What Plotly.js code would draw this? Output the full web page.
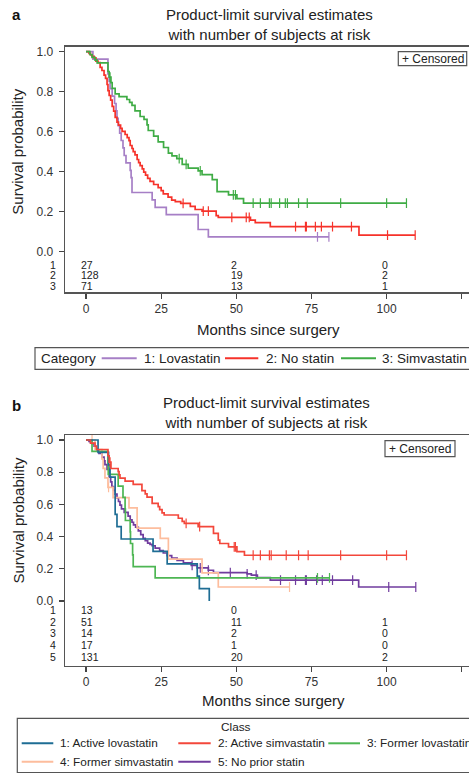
<!DOCTYPE html>
<html><head><meta charset="utf-8">
<script src="https://cdn.plot.ly/plotly-3.0.1.min.js"></script>
<style>html,body{margin:0;padding:0;background:#fff}#chart{width:469px;height:773px}</style>
</head><body><div id="chart"></div><script>
// ---------- Panel a data ----------
const A_LOVA_T = [0, 2.3, 7.3, 7.7, 8.0, 8.7, 9.5, 10.0, 10.3, 10.7, 11.2, 11.7, 12.3, 12.7, 13.3, 14.7, 15.0, 15.3, 22.0, 23.0, 26.7, 37.3, 40.7];
const A_LOVA_S = [1, 0.963, 0.889, 0.852, 0.815, 0.778, 0.741, 0.704, 0.667, 0.630, 0.593, 0.556, 0.519, 0.481, 0.444, 0.407, 0.370, 0.296, 0.259, 0.222, 0.185, 0.111, 0.074];
const A_LOVA_END = 80.8;
const A_LOVA_CENS = [77.0, 80.8];

const A_NOST_T = [0, 1, 1.5, 2, 2.7, 3.3, 4, 4.7, 5.3, 6, 6.5, 7, 7.3, 7.7, 8.2, 8.7, 9.2, 9.7, 10.3, 10.8, 11.5, 12, 13, 13.7, 14.3, 14.7, 15.3, 15.7, 16.3, 17, 17.5, 18, 18.7, 19.2, 19.8, 20.5, 21.3, 22.5, 24, 25, 25.7, 27.3, 28.5, 29.7, 31.5, 34.7, 36.3, 38.6, 43.3, 44, 54.7, 56.3, 61.3, 90.8];
const A_NOST_S = [1, 0.992, 0.984, 0.977, 0.969, 0.953, 0.945, 0.922, 0.906, 0.883, 0.867, 0.836, 0.805, 0.781, 0.758, 0.727, 0.703, 0.672, 0.648, 0.633, 0.617, 0.602, 0.586, 0.570, 0.555, 0.531, 0.516, 0.500, 0.484, 0.461, 0.445, 0.430, 0.414, 0.398, 0.383, 0.367, 0.352, 0.336, 0.320, 0.305, 0.289, 0.273, 0.258, 0.250, 0.242, 0.227, 0.211, 0.203, 0.180, 0.172, 0.158, 0.145, 0.125, 0.083];
const A_NOST_END = 109.5;
const A_NOST_CENS = [32.3, 39, 40.7, 48.5, 53.3, 54.3, 69.7, 73, 73.3, 76.3, 78.3, 82, 88.3, 100.3, 109.5];

const A_SIMV_T = [0, 1.3, 2, 3, 3.7, 7.3, 7.7, 8.3, 8.7, 9.7, 11, 13.6, 14.5, 15.3, 16.3, 18, 19.3, 20.3, 20.7, 22.5, 24, 25.8, 27.4, 28.6, 30.2, 32, 34, 37.3, 38.6, 42, 43.6, 47.4, 50.2, 52.4];
const A_SIMV_S = [1, 0.986, 0.972, 0.958, 0.944, 0.901, 0.873, 0.845, 0.817, 0.789, 0.775, 0.761, 0.747, 0.732, 0.704, 0.676, 0.662, 0.634, 0.606, 0.578, 0.549, 0.521, 0.493, 0.479, 0.465, 0.437, 0.418, 0.404, 0.385, 0.360, 0.300, 0.284, 0.265, 0.243];
const A_SIMV_END = 106.6;
const A_SIMV_CENS = [8, 31, 33.3, 38, 49, 49.7, 55.6, 58, 61, 61.6, 64.4, 66.3, 67, 70.7, 73.6, 84.7, 100, 106.6];

const A_NAMES = ['1: Lovastatin', '2: No statin', '3: Simvastatin'];
const A_RISK_TIMES = [0, 50, 100];
const A_RISK_ROWS = ['1', '2', '3'];
const A_RISK = [[27, 2, 0], [128, 19, 2], [71, 13, 1]];

// ---------- Panel b data ----------
const B_ALOV_T = [0, 4, 7.5, 8, 9.7, 10.3, 11.7, 22.3, 27, 37, 37.7, 41];
const B_ALOV_S = [1, 0.923, 0.846, 0.769, 0.538, 0.462, 0.385, 0.308, 0.231, 0.154, 0.077, 0];
const B_ALOV_END = 41;
const B_ALOV_CENS = [];

const B_ASIM_T = [0, 1.5, 3, 3.5, 7.3, 7.7, 8.3, 10.7, 11, 11.3, 13, 15.7, 18.6, 19.7, 20.3, 22, 24, 24.5, 25.3, 26, 30.7, 32, 32.7, 37.3, 42.4, 44, 44.5, 47.4, 50.2, 52.7];
const B_ASIM_S = [1, 0.980, 0.961, 0.941, 0.902, 0.863, 0.823, 0.803, 0.783, 0.763, 0.744, 0.724, 0.685, 0.665, 0.645, 0.606, 0.586, 0.567, 0.547, 0.534, 0.514, 0.494, 0.482, 0.462, 0.420, 0.378, 0.357, 0.336, 0.306, 0.284];
const B_ASIM_END = 106.6;
const B_ASIM_CENS = [8, 33.3, 37.8, 49.3, 49.7, 55.6, 58, 61, 61.6, 66.6, 70.7, 73.9, 84.7, 100, 106.6];

const B_FLOV_T = [0, 2, 7.3, 7.4, 10.7, 12.3, 13, 13.1, 14.7, 14.8, 15.5, 15.7, 23];
const B_FLOV_S = [1, 0.929, 0.857, 0.786, 0.714, 0.643, 0.571, 0.500, 0.429, 0.357, 0.286, 0.214, 0.143];
const B_FLOV_END = 81;
const B_FLOV_CENS = [77, 81];

const B_FSIM_T = [0, 3, 5.3, 5.7, 6.3, 7.3, 9, 14.3, 17, 24.7, 27.4, 38.6, 44];
const B_FSIM_S = [1, 0.941, 0.882, 0.824, 0.765, 0.706, 0.642, 0.578, 0.453, 0.389, 0.260, 0.174, 0.087];
const B_FSIM_END = 67.7;
const B_FSIM_CENS = [2, 7.5, 67.7];

const B_NONE_T = [0, 1, 1.5, 2, 2.7, 3.3, 3.7, 4.3, 5.3, 6, 6.3, 7, 7.7, 8.2, 8.6, 9.2, 9.7, 10.3, 10.8, 11.3, 11.8, 12.7, 14, 14.7, 15.3, 15.8, 16.5, 17.4, 18.2, 19, 19.7, 20.5, 21.3, 22, 23, 24.5, 25.7, 27, 28.5, 30.3, 32.4, 35, 37, 40.7, 42.4, 53.6, 55, 57, 61.3, 90.7];
const B_NONE_S = [1, 0.992, 0.985, 0.977, 0.962, 0.947, 0.931, 0.916, 0.893, 0.870, 0.847, 0.817, 0.771, 0.740, 0.710, 0.687, 0.664, 0.641, 0.618, 0.595, 0.572, 0.550, 0.527, 0.504, 0.489, 0.473, 0.458, 0.435, 0.412, 0.389, 0.374, 0.359, 0.352, 0.343, 0.328, 0.313, 0.298, 0.282, 0.267, 0.252, 0.237, 0.221, 0.206, 0.191, 0.176, 0.168, 0.160, 0.145, 0.130, 0.087];
const B_NONE_END = 109.7;
const B_NONE_CENS = [35.3, 38, 40.7, 48, 53.6, 56.6, 64.7, 69.7, 73, 73.3, 76.7, 78.6, 82, 88.7, 100.7, 109.7];

const B_NAMES = ['1: Active lovastatin', '2: Active simvastatin', '3: Former lovastatin', '4: Former simvastatin', '5: No prior statin'];
const B_RISK_TIMES = [0, 50, 100];
const B_RISK_ROWS = ['1', '2', '3', '4', '5'];
const B_RISK = [[13, 0, null], [51, 11, 1], [14, 2, 0], [17, 1, 0], [131, 20, 2]];

// ---------- styling ----------
const A_COLORS = ['#a67fc6', '#f6322a', '#3fac45'];
const B_COLORS = ['#1e6d94', '#f3473b', '#4db653', '#fdbd9d', '#703c9e'];
const FONT = 'Liberation Sans, Arial, Helvetica, sans-serif';
const W = 469, H = 773;

function stepAt(t, ts, ss) {
  let v = ss[0];
  for (let i = 0; i < ts.length; i++) { if (ts[i] <= t) v = ss[i]; }
  return v;
}
function curve(ts, ss, end, cens, color, name, xa, ya) {
  const out = [];
  out.push({
    type: 'scatter', mode: 'lines', x: ts.concat([end]), y: ss.concat([ss[ss.length - 1]]),
    line: {shape: 'hv', color: color, width: 1.7}, name: name, xaxis: xa, yaxis: ya,
    showlegend: false, hoverinfo: 'skip'
  });
  if (cens.length) {
    out.push({
      type: 'scatter', mode: 'markers', x: cens, y: cens.map(c => stepAt(c, ts, ss)),
      marker: {symbol: 'line-ns', size: 7, line: {color: color, width: 1.2}, color: color},
      xaxis: xa, yaxis: ya, showlegend: false, hoverinfo: 'skip'
    });
  }
  return out;
}

const A_SETS = [[A_LOVA_T, A_LOVA_S, A_LOVA_END, A_LOVA_CENS], [A_NOST_T, A_NOST_S, A_NOST_END, A_NOST_CENS], [A_SIMV_T, A_SIMV_S, A_SIMV_END, A_SIMV_CENS]];
const B_SETS = [[B_ALOV_T, B_ALOV_S, B_ALOV_END, B_ALOV_CENS], [B_ASIM_T, B_ASIM_S, B_ASIM_END, B_ASIM_CENS], [B_FLOV_T, B_FLOV_S, B_FLOV_END, B_FLOV_CENS], [B_FSIM_T, B_FSIM_S, B_FSIM_END, B_FSIM_CENS], [B_NONE_T, B_NONE_S, B_NONE_END, B_NONE_CENS]];

let traces = [];
A_SETS.forEach((d, i) => { traces = traces.concat(curve(d[0], d[1], d[2], d[3], A_COLORS[i], A_NAMES[i], 'x', 'y')); });
[4, 3, 2, 0, 1].forEach(i => { const d = B_SETS[i]; traces = traces.concat(curve(d[0], d[1], d[2], d[3], B_COLORS[i], B_NAMES[i], 'x2', 'y2')); });

const px = v => v / W;
const py = v => 1 - v / H;

const axX = {
  range: [-6.99, 127.4], tickvals: [0, 25, 50, 75, 100, 125], ticks: 'outside', ticklen: 5, tickwidth: 1.1,
  tickcolor: '#444', showline: true, linecolor: '#555', linewidth: 1.3, mirror: true, showgrid: false,
  zeroline: false, tickfont: {size: 12, color: '#333', family: FONT}, ticklabelstandoff: 0, domain: [65 / W, 1]
};
const axY = {
  tickvals: [0, 0.2, 0.4, 0.6, 0.8, 1.0], ticktext: ['0.0', '0.2', '0.4', '0.6', '0.8', '1.0'],
  ticks: 'outside', ticklen: 5, tickwidth: 1.1, tickcolor: '#444', showline: true, linecolor: '#555',
  linewidth: 1.3, mirror: false, showgrid: false, zeroline: false,
  tickfont: {size: 12, color: '#333', family: FONT}, ticklabelstandoff: 3
};

const ann = [];
const T = (text, x, y, opt) => ann.push(Object.assign({text: text, x: x, y: y, xref: 'paper', yref: 'paper', xanchor: 'center', yanchor: 'middle', showarrow: false, font: {family: FONT, size: 15, color: '#222'}}, opt || {}));

T('<b>a</b>', px(16), py(14), {font: {family: FONT, size: 15, color: '#111'}});
T('<b>b</b>', px(16), py(405), {font: {family: FONT, size: 15, color: '#111'}});
T('Product-limit survival estimates<br>with number of subjects at risk', px(269.5), py(24.5));
T('Product-limit survival estimates<br>with number of subjects at risk', px(266.7), py(412.5));
T('Months since surgery', px(268.3), py(329));
T('Months since surgery', px(273.3), py(700));
ann.push({text: 'Survival probability', textangle: -90, x: px(18), xref: 'paper', xanchor: 'center', y: 0.5, yref: 'y', yanchor: 'middle', showarrow: false, font: {family: FONT, size: 15, color: '#222'}});
ann.push({text: 'Survival probability', textangle: -90, x: px(18), xref: 'paper', xanchor: 'center', y: 0.5, yref: 'y2', yanchor: 'middle', showarrow: false, font: {family: FONT, size: 15, color: '#222'}});
T('+ Censored', px(432.5), py(58.7), {font: {family: FONT, size: 12, color: '#222'}});
T('+ Censored', px(420), py(448.7), {font: {family: FONT, size: 12, color: '#222'}});

// at-risk tables
const riskFont = {family: FONT, size: 10.5, color: '#222'};
A_RISK.forEach((row, r) => {
  const yv = -0.067 - 0.0515 * r;
  ann.push({text: A_RISK_ROWS[r], x: px(57.5), xref: 'paper', xanchor: 'right', y: yv, yref: 'y', yanchor: 'middle', showarrow: false, font: riskFont});
  row.forEach((v, c) => { if (v !== null) ann.push({text: String(v), x: A_RISK_TIMES[c], xref: 'x', xanchor: 'left', xshift: -7, y: yv, yref: 'y', yanchor: 'middle', showarrow: false, font: riskFont}); });
});
B_RISK.forEach((row, r) => {
  const yv = -0.056 - 0.0727 * r;
  ann.push({text: B_RISK_ROWS[r], x: px(57.5), xref: 'paper', xanchor: 'right', y: yv, yref: 'y2', yanchor: 'middle', showarrow: false, font: riskFont});
  row.forEach((v, c) => { if (v !== null) ann.push({text: String(v), x: B_RISK_TIMES[c], xref: 'x2', xanchor: 'left', xshift: -7, y: yv, yref: 'y2', yanchor: 'middle', showarrow: false, font: riskFont}); });
});

const shapes = [];
const box = (x0, y0, x1, y1) => shapes.push({type: 'rect', xref: 'paper', yref: 'paper', x0: px(x0), x1: px(x1), y0: py(y1), y1: py(y0), line: {color: '#555', width: 1.2}, fillcolor: 'rgba(0,0,0,0)'});
const seg = (x0, x1, y, color) => shapes.push({type: 'line', xref: 'paper', yref: 'paper', x0: px(x0), x1: px(x1), y0: py(y), y1: py(y), line: {color: color, width: 2}});
box(398.3, 51.7, 466.7, 65.7);
box(385, 440.7, 455, 456.7);
// legend a
box(35, 347.7, 480, 369.3);
const legA = 13.5;
T('Category', px(39.3), py(358.3), {xanchor: 'left', font: {family: FONT, size: legA, color: '#222'}});
seg(101.7, 136.7, 358.3, A_COLORS[0]);
T(A_NAMES[0], px(141.5), py(358.3), {xanchor: 'left', font: {family: FONT, size: legA, color: '#222'}});
seg(225, 258.3, 358.3, A_COLORS[1]);
T(A_NAMES[1], px(263.5), py(358.3), {xanchor: 'left', font: {family: FONT, size: legA, color: '#222'}});
seg(341, 376, 358.3, A_COLORS[2]);
T(A_NAMES[2], px(380), py(358.3), {xanchor: 'left', font: {family: FONT, size: legA, color: '#222'}});
// legend b
box(17.3, 718.3, 480, 772.5);
const legB = 11.8;
T('Class', px(235.8), py(727.3), {font: {family: FONT, size: legB, color: '#222'}});
const lgB = [[21.7, 53.3, 58, 743.3], [178.3, 210.7, 215.5, 743.3], [328.3, 360, 364.5, 743.3], [21.7, 53.3, 58, 761.7], [178.3, 210.7, 215.5, 761.7]];
lgB.forEach((g, i) => {
  seg(g[0], g[1], g[3], B_COLORS[i]);
  T(B_NAMES[i], px(g[2]), py(g[3]), {xanchor: 'left', font: {family: FONT, size: legB, color: '#222'}});
});

const layout = {
  width: W, height: H, margin: {l: 0, r: 0, t: 0, b: 0}, paper_bgcolor: '#fff', plot_bgcolor: '#fff',
  showlegend: false, font: {family: FONT, color: '#222'},
  xaxis: Object.assign({}, axX, {anchor: 'y'}),
  yaxis: Object.assign({}, axY, {anchor: 'x', domain: [1 - 292.3 / H, 1 - 46.7 / H], range: [-0.203, 1.025]}),
  xaxis2: Object.assign({}, axX, {anchor: 'y2'}),
  yaxis2: Object.assign({}, axY, {anchor: 'x2', domain: [1 - 665.7 / H, 1 - 435 / H], range: [-0.402, 1.031]}),
  annotations: ann, shapes: shapes
};
Plotly.newPlot('chart', traces, layout, {staticPlot: true, displayModeBar: false});
</script></body></html>
